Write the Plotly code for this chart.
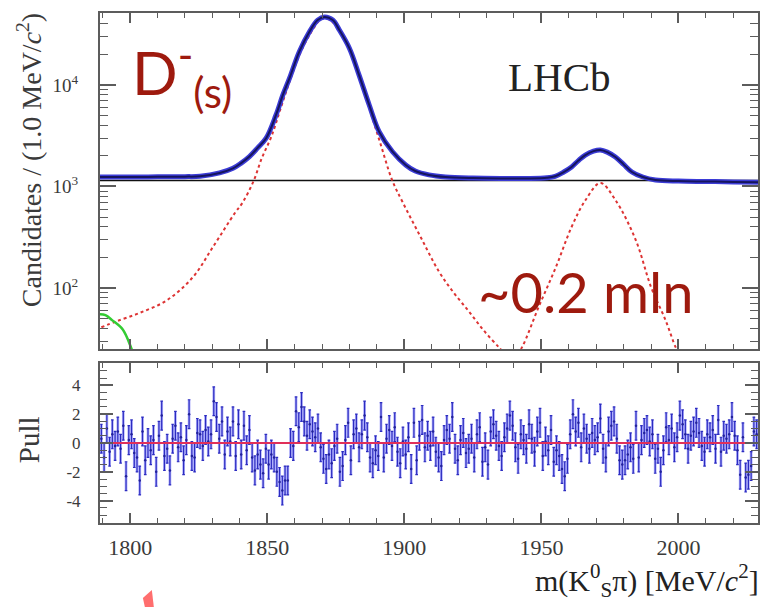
import plotly.graph_objects as go

# ---------------- data ----------------
# total fit / data (blue), MeV vs candidates per 1 MeV
blue_mass = [1789, 1800, 1810, 1820, 1825.5, 1832.6, 1837.5, 1840.5, 1843.5, 1846.5, 1849.6,
             1853.2, 1855.7, 1858.1, 1861.7, 1865.4, 1868.4, 1870.9, 1873.9, 1876.3, 1880,
             1883.5, 1887.2, 1890.8, 1895.7, 1900.5, 1904, 1909, 1915, 1925, 1935, 1945,
             1952, 1955, 1958, 1961, 1963.5, 1966, 1969, 1971.5, 1974, 1977, 1980, 1983,
             1987, 1991.6, 2000, 2010, 2020, 2029]
blue_vals = [1240, 1240, 1245, 1250, 1260, 1360, 1510, 1700, 1970, 2400, 2990,
             5060, 7970, 11600, 21300, 33500, 43600, 46800, 43600, 34800, 22900,
             12500, 6350, 3470, 2200, 1630, 1420, 1300, 1240, 1210, 1200, 1200,
             1220, 1260, 1380, 1556, 1800, 2040, 2230, 2290, 2180, 1950, 1650, 1390,
             1240, 1160, 1130, 1120, 1110, 1100]

# combinatorial background (black)
bkg_mass = [1789, 2029]
bkg_vals = [1146, 1146]

# D+ signal component (red dotted)
dp_mass = [1789.5, 1795, 1803.6, 1813.5, 1822.9, 1830.2, 1838.2, 1841.1, 1845.1, 1848,
           1851.5, 1855, 1858.5, 1862, 1866, 1869, 1870.9, 1873, 1876.4, 1880, 1883.6,
           1887.3, 1891, 1895.6, 1899.3, 1906, 1912.7, 1918, 1923.5, 1929, 1934.5, 1937]
dp_vals = [41, 47, 57, 76, 128, 254, 548, 700, 1146, 1900,
           3100, 6000, 11500, 20500, 33000, 43000, 45500, 43500, 34000, 22500, 12000,
           5800, 2800, 1146, 708, 316, 144, 90, 59, 38, 26, 22]

# Ds+ signal component (red dotted)
ds_mass = [1940, 1942.9, 1949, 1955.3, 1961, 1966.1, 1971.5, 1977, 1984.4, 1990, 1995.3, 1999, 2001]
ds_vals = [20, 26, 65, 161, 399, 736, 1082, 736, 297, 102, 48, 26, 21]

# low-mass component (green)
gr_mass = [1789, 1791, 1793.5, 1797.3, 1800.3, 1801.5]
gr_vals = [55, 54, 48, 39, 26, 21]

# pulls, one per 1 MeV bin from 1789 to 2029
pull_vals = [
    0.3, -1.0, 1.0, -0.6, 0.6, -0.2, 0.8, -0.4, 1.2, -2.3,
    0.2, 0.6, -0.7, -1.0, -2.6, 0.8, -1.2, 0.0, -0.5, 0.2,
    -2.0, 0.5, 1.9, -0.9, -0.4, -1.9, 0.3, 1.2, -0.3, 0.4,
    -1.2, 0.2, 2.0, -0.9, -1.0, 0.7, 0.6, -0.2, 0.9, 0.1,
    0.6, 2.9, 1.8, 0.3, 1.5, -0.8, 0.8, 0.1, 1.5, -0.9,
    1.3, -0.8, 1.2, -0.5, 0.9, -1.0, -1.9, -0.8, -1.5, -2.1,
    -0.4, -1.5, -0.8, -1.0, -2.0, -2.7, -3.3, -2.6, -2.6, 0.0,
    -0.2, 2.2, 1.1, 2.5, 1.5, 0.5, 1.3, 0.8, 0.4, 1.0,
    -0.3, -1.1, -1.8, -0.8, -1.4, -0.2, 0.3, -2.0, -1.6, 0.2,
    1.4, -1.2, 0.6, 1.0, -0.3, 0.6, 1.9, 0.4, -1.0, -1.4,
    -0.5, -0.9, 1.8, -1.0, 0.3, 0.9, -0.2, 1.1, -0.6, -1.4,
    0.1, -0.8, 0.4, -1.8, 1.4, -1.2, 0.5, 1.6, -0.3, 0.5,
    -0.2, 0.8,
    -0.6, -1.0, -1.6, 0.2, 0.9, 0.3, 1.8, -0.4, -1.2, 0.2,
    0.7, -0.7, -0.4, 0.3, -1.0, 0.6, 1.1, -1.3, -0.3, -1.5,
    0.8, 1.3, 0.5, -0.2, -0.9, 0.4, 1.0, 1.9, 1.2, -0.3,
    -1.1, 0.6, 0.2, -0.4, 1.3, 0.3, -0.6, 0.8, 1.4, -0.9,
    0.1, -0.5, 0.9, -1.3, -0.5, -0.9, -1.8, -2.3, -1.1, 0.6,
    2.0, 0.8, 1.4, -0.3, 1.0, 0.3, -0.4, 0.7, 0.2,
    0.4, 1.7, -0.4, -1.0, 0.8, 1.2, 1.5, 0.3, -1.2, -1.5,
    -1.2, -0.8, -0.3, -1.1, 1.2, -1.0, 0.2, 0.7, 0.9, 0.1,
    0.6, -1.1, -0.4, -2.0, -0.5, 1.1, 0.2, 1.0, -0.3, 0.4,
    1.9, 1.3, 0.6, -0.4, 0.5, 0.8, 1.4, 0.7, -0.2, -0.6,
    0.6, 0.4, 0.9, -0.4, 1.6, -0.6, 0.5, 0.3, 0.6, 1.8,
    0.5, -0.5, -2.2, 0.4, -2.4, -2.2, -1.6, 0.8, 0.6,
]
pull_mass = [1789.5 + i for i in range(len(pull_vals))]
pull_err = [1.0] * len(pull_vals)
bin_half = 0.5

x_ticks = [1800, 1850, 1900, 1950, 2000]
y_log_ticks = [100, 1000, 10000]
y_log_text = ["10<sup>2</sup>", "10<sup>3</sup>", "10<sup>4</sup>"]
y_log_minor = [30, 40, 50, 60, 70, 80, 90, 200, 300, 400, 500, 600, 700, 800, 900,
               2000, 3000, 4000, 5000, 6000, 7000, 8000, 9000, 20000, 30000, 40000]
pull_ticks = [-4, -2, 0, 2, 4]

# ---------------- figure ----------------
W, H = 766, 607
L, R, T, B = 100, 6, 13, 84
PW, PH = W - L - R, H - T - B


def px(x):
    return (x - L) / PW


def py(y):
    return (H - B - y) / PH


SERIF = "Liberation Serif, Times New Roman, serif"
AXC = "#5c5c5c"
TXT = "#3a3a3a"

fig = go.Figure()

# top panel
fig.add_trace(go.Scatter(x=bkg_mass, y=bkg_vals, mode="lines", xaxis="x2", yaxis="y2",
                         line=dict(color="#111111", width=1.6), showlegend=False))
fig.add_trace(go.Scatter(x=dp_mass, y=dp_vals, mode="lines", xaxis="x2", yaxis="y2",
                         line=dict(color="#dd3333", width=2, dash="dot", shape="spline"),
                         showlegend=False))
fig.add_trace(go.Scatter(x=ds_mass, y=ds_vals, mode="lines", xaxis="x2", yaxis="y2",
                         line=dict(color="#dd3333", width=2, dash="dot", shape="spline"),
                         showlegend=False))
fig.add_trace(go.Scatter(x=gr_mass, y=gr_vals, mode="lines", xaxis="x2", yaxis="y2",
                         line=dict(color="#33cc33", width=2.5, shape="spline"),
                         showlegend=False))
fig.add_trace(go.Scatter(x=blue_mass, y=blue_vals, mode="lines", xaxis="x2", yaxis="y2",
                         line=dict(color="#3b3bd6", width=5, shape="spline"), showlegend=False))
fig.add_trace(go.Scatter(x=blue_mass, y=blue_vals, mode="lines", xaxis="x2", yaxis="y2",
                         line=dict(color="#15155e", width=2, shape="spline"), showlegend=False))

# pull panel: light boxes (bin width x +-1 sigma) built from the pull data
box_x, box_y = [], []
for m, p, e in zip(pull_mass, pull_vals, pull_err):
    box_x += [m - bin_half, m + bin_half, m + bin_half, m - bin_half, m - bin_half, None]
    box_y += [p - e, p - e, p + e, p + e, p - e, None]
fig.add_trace(go.Scatter(x=box_x, y=box_y, mode="lines", fill="toself", xaxis="x", yaxis="y",
                         fillcolor="rgba(125,125,250,0.6)", line=dict(width=0),
                         hoverinfo="skip", showlegend=False))
fig.add_trace(go.Scatter(x=pull_mass, y=pull_vals, mode="markers", xaxis="x", yaxis="y",
                         marker=dict(color="#22229a", size=2.5),
                         error_y=dict(type="data", array=pull_err, color="#2c2cc0",
                                      thickness=1.2, width=1.3),
                         showlegend=False))
fig.add_trace(go.Scatter(x=[1789, 2029], y=[0, 0], mode="lines", xaxis="x", yaxis="y",
                         line=dict(color="#e0305a", width=1.8), showlegend=False))

common_x = dict(range=[1789, 2029], showgrid=False, zeroline=False, showline=True,
                linecolor=AXC, linewidth=2, mirror="ticks", ticks="inside",
                tickcolor=AXC, ticklen=10, tickwidth=1.5,
                minor=dict(dtick=10, tick0=1800, ticks="inside", ticklen=5, tickcolor=AXC,
                           tickwidth=1.2))

fig.update_layout(
    width=W, height=H, autosize=False,
    margin=dict(l=L, r=R, t=T, b=B),
    paper_bgcolor="white", plot_bgcolor="white",
    xaxis=dict(domain=[0, 1], anchor="y", tickvals=x_ticks,
               tickfont=dict(family=SERIF, size=22, color=TXT), ticklabelstandoff=4,
               **common_x),
    yaxis=dict(domain=[0, (H - B - 363) / PH], range=[-5.55, 5.55], anchor="x",
               tickvals=pull_ticks, ticktext=[str(v) for v in pull_ticks],
               showgrid=False, zeroline=False, showline=True, linecolor=AXC, linewidth=2,
               mirror="ticks", ticks="inside", ticklen=13, tickwidth=1.5, tickcolor=AXC,
               minor=dict(dtick=0.5, ticks="inside", ticklen=7, tickcolor=AXC, tickwidth=1.2),
               tickfont=dict(family=SERIF, size=17, color=TXT), ticklabelstandoff=14),
    xaxis2=dict(domain=[0, 1], anchor="y2", showticklabels=False, tickvals=x_ticks,
                **common_x),
    yaxis2=dict(domain=[(H - B - 349) / PH, 1], type="log", range=[1.399, 4.709],
                anchor="x2", tickvals=y_log_ticks, ticktext=y_log_text,
                showgrid=False, zeroline=False, showline=True, linecolor=AXC, linewidth=2,
                mirror="ticks", ticks="inside", ticklen=16, tickwidth=1.5, tickcolor=AXC,
                minor=dict(tickvals=y_log_minor, ticks="inside", ticklen=8, tickcolor=AXC,
                           tickwidth=1.2),
                tickfont=dict(family=SERIF, size=19, color=TXT), ticklabelstandoff=16),
)

ann = [
    dict(text="Candidates / (1.0 MeV/<i>c</i><sup>2</sup>)", x=px(29), y=py(160),
         textangle=-90, font=dict(family=SERIF, size=28, color=TXT)),
    dict(text="Pull", x=px(29), y=py(440), textangle=-90,
         font=dict(family=SERIF, size=29, color=TXT)),
    dict(text="m(K<sup>0</sup><sub>S</sub>π) [MeV/<i>c</i><sup>2</sup>]", x=px(763), y=py(580),
         xanchor="right", font=dict(family=SERIF, size=30, color="#222222")),
    dict(text="LHCb", x=px(561), y=py(77), font=dict(family=SERIF, size=41, color="#222222")),
    dict(text="D<sup>-</sup><sub>(s)</sub>", x=px(130), y=py(73), xanchor="left",
         font=dict(family="Lato", size=60, color="#9e1a0e")),
    dict(text="~0.2 mln", x=px(587), y=py(291),
         font=dict(family="Lato", size=56, color="#9e1a0e")),
]
for a in ann:
    a.setdefault("xanchor", "center")
    a.update(xref="paper", yref="paper", showarrow=False, yanchor="middle")
fig.update_layout(annotations=ann)

# small salmon fragment at the bottom edge
pts = [(143, 598), (152, 590), (154, 607), (145, 607)]
path = "M " + " L ".join(f"{px(a):.4f},{py(b):.4f}" for a, b in pts) + " Z"
fig.add_shape(type="path", path=path, xref="paper", yref="paper",
              fillcolor="#ff6e6e", line=dict(width=0))

fig.write_html("out.html")
